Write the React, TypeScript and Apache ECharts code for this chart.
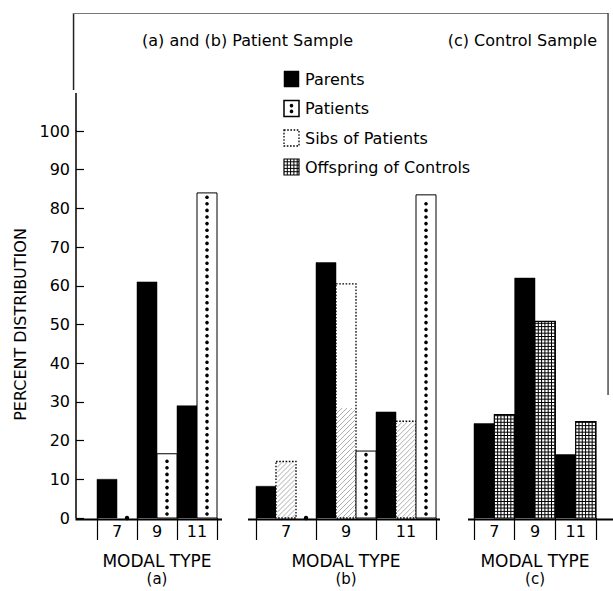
import React, { useEffect, useRef } from 'react';
import * as echarts from 'echarts';

const categories = ['7', '9', '11'];
const panelLetters = ['a', 'b', 'c'];
const parentsA = [10, 61, 29];
const patientsA = [0, 16.6, 84];
const parentsB = [8.2, 66, 27.4];
const sibsB = [14.6, 60.5, 25];
const patientsB = [0, 17.3, 83.5];
const parentsC = [24.4, 62, 16.4];
const offspringC = [26.7, 50.8, 24.9];
const legendNames = ['Parents', 'Patients', 'Sibs of Patients', 'Offspring of Controls'];
const legendKinds = ['solid', 'dots', 'sibs', 'grid'];

const FONT = '"DejaVu Sans", sans-serif';

function hatch(x0: number, x1: number, yTop: number, yBot: number, step: number, color: string) {
  const out: any[] = [];
  for (let c = x0 + yTop; c < x1 + yBot; c += step) {
    const xa = Math.max(x0, c - yBot);
    const xb = Math.min(x1, c - yTop);
    if (xb > xa) {
      out.push({ type: 'line', shape: { x1: xa, y1: c - xa, x2: xb, y2: c - xb }, style: { stroke: color, lineWidth: 0.7 } });
    }
  }
  return out;
}

function gridPattern(x0: number, y0: number, w: number, h: number, pitch: number) {
  const out: any[] = [];
  out.push({ type: 'rect', shape: { x: x0, y: y0, width: w, height: h }, style: { fill: '#fff', stroke: '#000', lineWidth: 1.2 } });
  for (let x = x0 + pitch; x < x0 + w - 0.5; x += pitch) {
    out.push({ type: 'line', shape: { x1: x, y1: y0, x2: x, y2: y0 + h }, style: { stroke: '#000', lineWidth: 1 } });
  }
  for (let y = y0 + h - pitch; y > y0 + 0.5; y -= pitch) {
    out.push({ type: 'line', shape: { x1: x0, y1: y, x2: x0 + w, y2: y }, style: { stroke: '#000', lineWidth: 1 } });
  }
  return out;
}

function drawKind(kind: string, x0: number, y0: number, w: number, h: number, legend: boolean) {
  const children: any[] = [];
  const x1 = x0 + w;
  const y1 = y0 + h;
  if (kind === 'solid') {
    children.push({ type: 'rect', shape: { x: x0, y: y0, width: w, height: h }, style: { fill: '#000', stroke: '#000', lineWidth: 0.5 } });
  } else if (kind === 'dots') {
    const cx = (x0 + x1) / 2;
    if (h > 1) {
      children.push({ type: 'rect', shape: { x: x0, y: y0, width: w, height: h }, style: { fill: '#fff', stroke: '#000', lineWidth: legend ? 1.5 : 1 } });
      if (legend) {
        children.push({ type: 'circle', shape: { cx, cy: y0 + h * 0.32, r: 1.8 }, style: { fill: '#000' } });
        children.push({ type: 'circle', shape: { cx, cy: y0 + h * 0.68, r: 1.8 }, style: { fill: '#000' } });
      } else {
        for (let y = y1 - 4; y > y0 + 3; y -= 6.6) {
          children.push({ type: 'circle', shape: { cx, cy: y, r: 1.8 }, style: { fill: '#000' } });
        }
      }
    } else {
      children.push({ type: 'circle', shape: { cx, cy: y1, r: 2.2 }, style: { fill: '#000' } });
    }
  } else if (kind === 'sibs') {
    children.push({ type: 'rect', shape: { x: x0, y: y0, width: w, height: h }, style: { fill: '#fff', stroke: '#000', lineWidth: 1.3, lineDash: [1.6, 1.6] } });
    if (!legend) {
      children.push(...hatch(x0 + 1, x1 - 1, Math.max(y0 + 1, y1 - 110), y1, 5, '#8a8a8a'));
    }
  } else if (kind === 'grid') {
    children.push(...gridPattern(x0, y0, w, h, 3.3));
  }
  return children;
}

function makeRender(kind: string, idx: number, n: number) {
  return (params: any, api: any) => {
    const cat = api.value(0);
    const v = api.value(1);
    const base = api.coord([cat, 0]);
    const top = api.coord([cat, v]);
    const band = api.size([1, 0])[0];
    const bw = band / n;
    const x0 = base[0] - band / 2 + idx * bw;
    return { type: 'group', children: drawKind(kind, x0, top[1], bw, base[1] - top[1], false) };
  };
}

function customSeries(name: string, values: number[], kind: string, idx: number, n: number, gi: number) {
  return {
    type: 'custom',
    name,
    xAxisIndex: gi,
    yAxisIndex: gi,
    silent: true,
    encode: { x: 0, y: 1 },
    data: values.map((v, i) => [i, v]),
    renderItem: makeRender(kind, idx, n),
  };
}

export default function App() {
  const ref = useRef<HTMLDivElement>(null);
  useEffect(() => {
    document.body.style.margin = '0';
    const chart = echarts.init(ref.current!, undefined, { renderer: 'svg' });
    const axisLineStyle = { color: '#000', width: 1.5 };
    const grids = [
      { left: 97, width: 120, top: 131, height: 389 },
      { left: 256, width: 180, top: 131, height: 389 },
      { left: 474, width: 122, top: 131, height: 389 },
    ];
    const xAxis: any[] = grids.map((g, i) => ({
      type: 'category',
      gridIndex: i,
      data: categories,
      axisLine: { show: false },
      axisTick: { show: true, length: 22, lineStyle: { color: '#000', width: 1.2 } },
      axisLabel: { color: '#000', fontSize: 16, fontFamily: FONT, margin: 5 },
      name: `{t|MODAL TYPE}\n{s|(${panelLetters[i]})}`,
      nameLocation: 'middle',
      nameGap: 34,
      nameTextStyle: {
        color: '#000',
        fontFamily: FONT,
        rich: {
          t: { fontSize: 17, lineHeight: 18, fontFamily: FONT, color: '#000' },
          s: { fontSize: 15, lineHeight: 17, fontFamily: FONT, color: '#000' },
        },
      },
    }));
    const yAxis: any[] = grids.map((g, i) =>
      i === 0
        ? {
            type: 'value',
            gridIndex: 0,
            min: 0,
            max: 100,
            interval: 10,
            offset: 21,
            axisLine: { show: true, lineStyle: axisLineStyle },
            axisTick: { show: true, inside: true, length: 8, lineStyle: { color: '#000', width: 1.2 } },
            axisLabel: { color: '#000', fontSize: 16, fontFamily: FONT, margin: 6 },
            splitLine: { show: false },
            name: 'PERCENT DISTRIBUTION',
            nameLocation: 'middle',
            nameGap: 48,
            nameTextStyle: { color: '#000', fontSize: 16, fontFamily: FONT },
          }
        : { type: 'value', gridIndex: i, min: 0, max: 100, interval: 10, show: false, splitLine: { show: false } }
    );
    const series = [
      customSeries('Parents', parentsA, 'solid', 0, 2, 0),
      customSeries('Patients', patientsA, 'dots', 1, 2, 0),
      customSeries('Parents', parentsB, 'solid', 0, 3, 1),
      customSeries('Sibs of Patients', sibsB, 'sibs', 1, 3, 1),
      customSeries('Patients', patientsB, 'dots', 2, 3, 1),
      customSeries('Parents', parentsC, 'solid', 0, 2, 2),
      customSeries('Offspring of Controls', offspringC, 'grid', 1, 2, 2),
    ];
    const legendRows = [79, 108.5, 138, 167];
    const legendGraphics: any[] = [];
    legendNames.forEach((nm, i) => {
      const cy = legendRows[i];
      legendGraphics.push({ type: 'group', children: drawKind(legendKinds[i], 284, cy - 8, 15, 16, true) });
      legendGraphics.push({
        type: 'text',
        style: { text: nm, x: 305, y: cy, font: `16px ${FONT}`, fill: '#000', align: 'left', verticalAlign: 'middle' },
      });
    });
    const bar = (x: number, y: number, w: number, h: number, color: string) => ({
      type: 'rect',
      z: 100,
      shape: { x, y, width: w, height: h },
      style: { fill: color },
    });
    chart.setOption({
      animation: false,
      backgroundColor: '#fff',
      grid: grids,
      xAxis,
      yAxis,
      series,
      graphic: [
        bar(72.8, 13, 1.5, 77, '#222'),
        bar(73, 13, 535, 1, '#777'),
        bar(607.4, 13, 1.3, 382, '#333'),
        bar(75.25, 93, 1.5, 38, '#000'),
        bar(75.5, 518.5, 146.5, 2, '#000'),
        bar(248, 518.5, 192, 2, '#000'),
        bar(468, 518.5, 145, 2, '#000'),
        {
          type: 'text',
          style: { text: '(a) and (b) Patient Sample', x: 142, y: 40, font: `16px ${FONT}`, fill: '#000', align: 'left', verticalAlign: 'middle' },
        },
        {
          type: 'text',
          style: { text: '(c) Control Sample', x: 597, y: 40, font: `16px ${FONT}`, fill: '#000', align: 'right', verticalAlign: 'middle' },
        },
        ...legendGraphics,
      ],
    });
    return () => chart.dispose();
  }, []);
  return <div ref={ref} style={{ width: 613, height: 591 }} />;
}
